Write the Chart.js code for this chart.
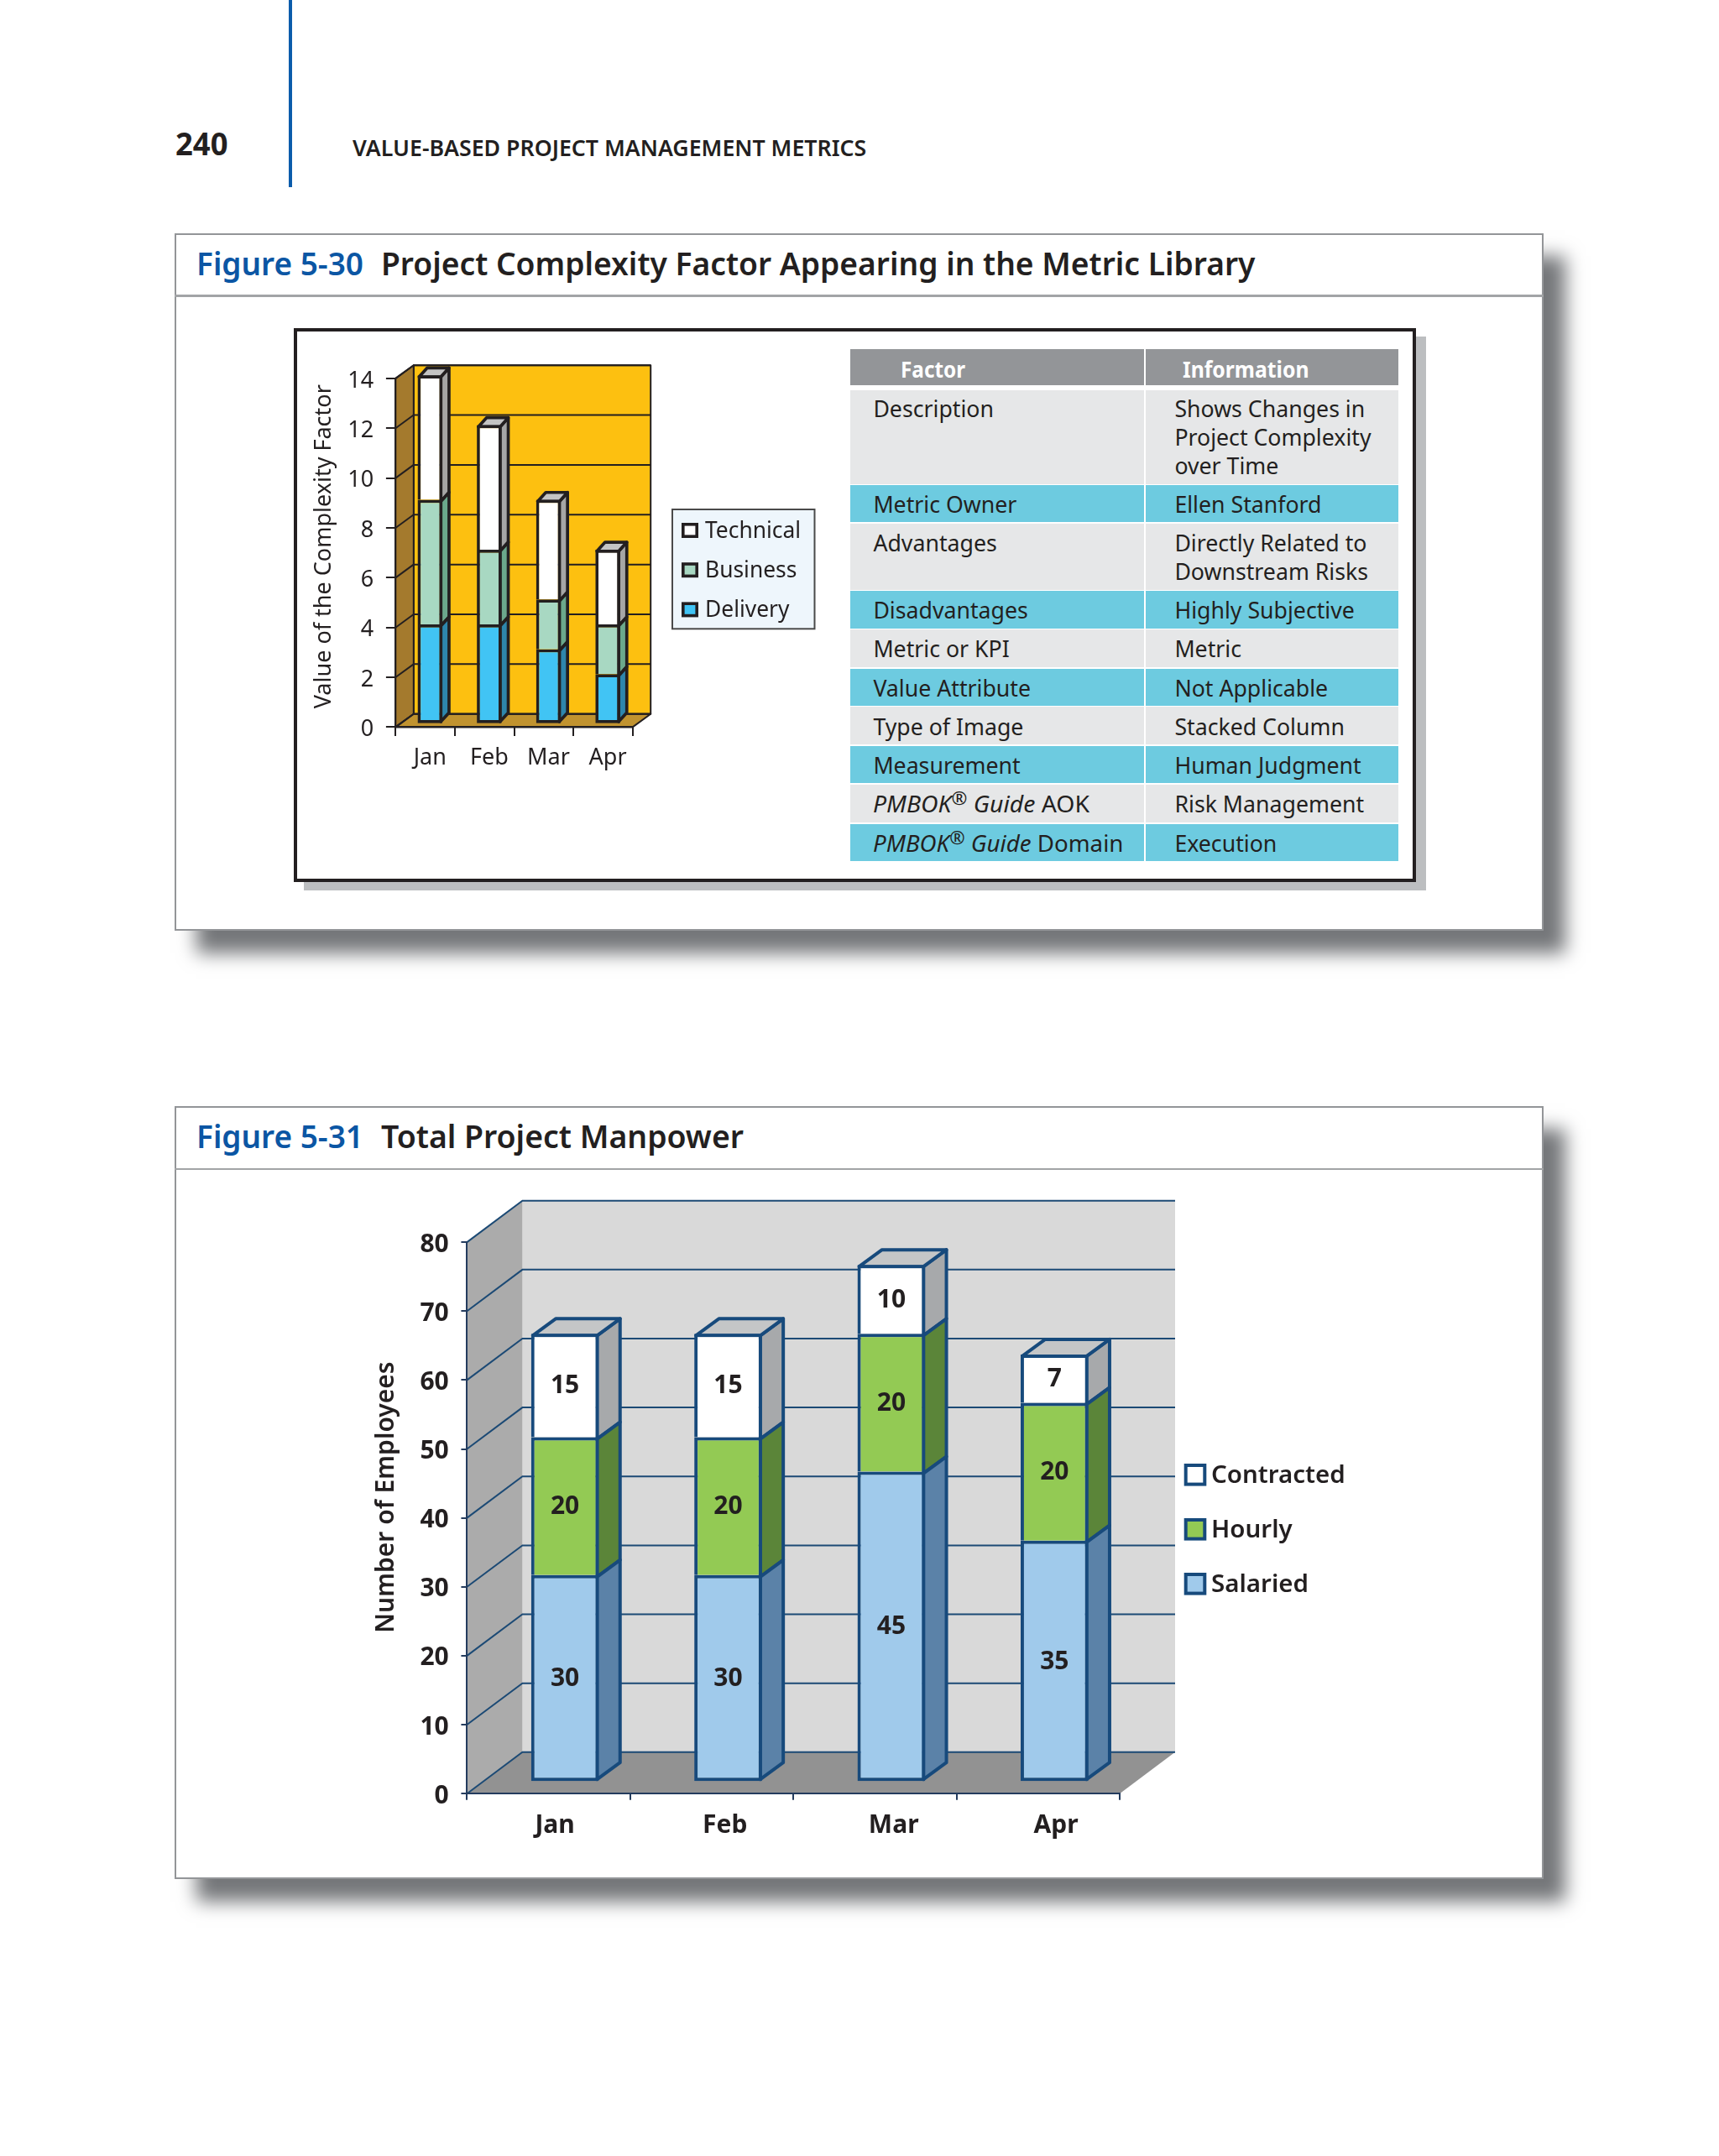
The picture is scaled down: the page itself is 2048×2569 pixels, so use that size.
<!DOCTYPE html>
<html><head><meta charset="utf-8">
<style>
html,body{margin:0;padding:0;background:#fff;width:2048px;height:2569px;overflow:hidden}
body{position:relative;font-family:'Noto Sans',sans-serif;color:#231F20}
.a{position:absolute}
.t{position:absolute;white-space:nowrap;line-height:normal;transform-origin:0 0}
canvas{position:absolute;display:block}
sup{font-size:.8em;line-height:0;vertical-align:.42em;font-style:normal}
</style></head><body>
<script src="https://cdn.jsdelivr.net/npm/chart.js@4"></script>
<script>
// ---------- data ----------
const months = ['Jan','Feb','Mar','Apr'];
const complexityTicksMax = 14;
const technical = [5,5,4,3];
const business  = [5,3,2,2];
const delivery  = [4,4,3,2];
const contracted = [15,15,10,7];
const hourly     = [20,20,20,20];
const salaried   = [30,30,45,35];
const tableHead = ['Factor','Information'];
const factorCol = ['Description','Metric Owner','Advantages','Disadvantages','Metric or KPI','Value Attribute','Type of Image','Measurement','<i>PMBOK<sup>®</sup> Guide</i> AOK','<i>PMBOK<sup>®</sup> Guide</i> Domain'];
const infoCol = [['Shows Changes in','Project Complexity','over Time'],['Ellen Stanford'],['Directly Related to','Downstream Risks'],['Highly Subjective'],['Metric'],['Not Applicable'],['Stacked Column'],['Human Judgment'],['Risk Management'],['Execution']];
// ---------- page furniture ----------
function rect(x,y,w,h,css){const d=document.createElement('div');d.className='a';d.style.cssText+=`left:${x}px;top:${y}px;width:${w}px;height:${h}px;`+css;document.body.appendChild(d);return d;}
function text(html,x,base,size,weight,color,fit){const s=document.createElement('span');s.className='t';s.innerHTML=html;
 s.style.cssText+=`left:${x}px;top:${base-1.069*size}px;font-size:${size}px;font-weight:${weight};color:${color};`;document.body.appendChild(s);
 if(fit){const w=s.getBoundingClientRect().width;s.style.transform=`scaleX(${fit/w})`;}return s;}
rect(344,0,3.6,222.7,'background:#0B5CAB');
text('240',208.7,185,38,700,'#231F20',62.5);
text('VALUE-BASED PROJECT MANAGEMENT METRICS',420.4,186,27,600,'#231F20',612.3);
function figBox(top,h,sepY,baseY,num,title,titleW){
 rect(208.3,top,1631,h,'box-sizing:border-box;background:#fff;border:2.5px solid #939598;box-shadow:26px 27px 21px #75777a');
 rect(208.3,sepY,1631,2.4,'background:#a2a4a6');
 text(num,234.2,baseY,37,600,'#0B56A4',199);
 text(title,454.2,baseY,37,600,'#231F20',titleW);
}
figBox(278.3,831,351.3,327.3,'Figure 5-30','Project Complexity Factor Appearing in the Metric Library',1041.4);
figBox(1317.8,921,1391.6,1367.6,'Figure 5-31','Total Project Manpower',432);
rect(362,401,1337,660,'background:#BCBEC0');
rect(349.8,390.7,1337.6,660,'box-sizing:border-box;background:#fff;border:4.5px solid #231F20');
// table
const colA=[1012.9,349.8], colB=[1364.6,301.2];
rect(colA[0],416,colA[1],43,'background:#939598');rect(colB[0],416,colB[1],43,'background:#939598');
text(tableHead[0],1072.5,450,27,700,'#fff',77);text(tableHead[1],1408.6,450,27,700,'#fff',150.6);
const rowTop=[465,577.8,623.8,704.4,750,796.8,842,889,934.7,982], rowBot=[576.5,622.5,702.7,748.7,795,841,887.4,933.4,980,1025.8];
const rowBase=[496.3,610.8,656.7,737,783,829.3,875.7,922,968,1015];
const factorFit={8:258,9:298.4};
factorCol.forEach((f,i)=>{const c=(i%2===1)?'#6DCBE0':'#E6E7E8';
 rect(colA[0],rowTop[i],colA[1],rowBot[i]-rowTop[i],'background:'+c);rect(colB[0],rowTop[i],colB[1],rowBot[i]-rowTop[i],'background:'+c);
 text(f,1040.4,rowBase[i],26.7,400,'#231F20',factorFit[i]);
 infoCol[i].forEach((l,j)=>text(l,1399.4,rowBase[i]+j*34,26.7,400,'#231F20'));
});
// ---------- chart helper ----------
function addCanvas(x,y,w,h){const c=document.createElement('canvas');c.width=w;c.height=h;c.style.left=x+'px';c.style.top=y+'px';c.style.width=w+'px';c.style.height=h+'px';document.body.appendChild(c);return c.getContext('2d');}
function poly(ctx,pts,fill,stroke,lw){ctx.beginPath();pts.forEach((p,i)=>i?ctx.lineTo(p[0],p[1]):ctx.moveTo(p[0],p[1]));ctx.closePath();if(fill){ctx.fillStyle=fill;ctx.fill();}if(stroke){ctx.strokeStyle=stroke;ctx.lineWidth=lw;ctx.lineJoin='round';ctx.stroke();}}
function cube(o){return {id:'cube3d',
 beforeDraw(chart){const ctx=chart.ctx,x=chart.scales.x,y=chart.scales.y,[dx,dy]=o.wall,L=x.left,R=x.right;
  const T=y.getPixelForValue(y.max),B=y.getPixelForValue(0);
  ctx.save();
  poly(ctx,[[L+dx,T-dy],[R+dx,T-dy],[R+dx,B-dy],[L+dx,B-dy]],o.back,o.backStroke,o.gridW);
  poly(ctx,[[L,B],[L+dx,B-dy],[L+dx,T-dy],[L,T]],o.left,o.leftStroke,o.gridW);
  poly(ctx,[[L,B],[R,B],[R+dx,B-dy],[L+dx,B-dy]],o.floor,o.floorStroke,o.gridW);
  ctx.strokeStyle=o.grid;ctx.lineWidth=o.gridW;
  y.ticks.forEach(t=>{const p=y.getPixelForValue(t.value);ctx.beginPath();ctx.moveTo(L,p);ctx.lineTo(L+dx,p-dy);ctx.lineTo(R+dx,p-dy);ctx.stroke();});
  ctx.restore();
  x.getLabelItems().forEach((it,i)=>{if(!it.shifted){it.options.translation[0]+=o.labelShift[i];it.shifted=true;}});
  if(!y.titlePatched){const orig=y.drawTitle;y.drawTitle=function(){ctx.save();ctx.translate(0,o.titleShift);orig.call(this);ctx.restore();};y.titlePatched=true;}
 },
 beforeDatasetDraw(chart,args){const ctx=chart.ctx;ctx.save();ctx.translate(o.bar[0],-o.bar[1]);
  const i=args.index,last=chart.data.datasets.length-1,[dx,dy]=o.depth,bw=o.bw,faces=o.side[i];
  args.meta.data.forEach(el=>{const xr=el.x+el.width/2-bw/2,xl=el.x-el.width/2+bw/2,yt=el.y+bw/2,yb=i?el.base+bw/2:el.base-bw/2;
   poly(ctx,[[xr,yt],[xr+dx,yt-dy],[xr+dx,yb-dy],[xr,yb]],faces,o.stroke,bw);
   if(i===last)poly(ctx,[[xl,yt],[xl+dx,yt-dy],[xr+dx,yt-dy],[xr,yt]],o.top,o.stroke,bw);
  });
 },
 afterDatasetDraw(chart){chart.ctx.restore();},
 afterDatasetsDraw(chart){const ctx=chart.ctx;
  if(o.valueFont){ctx.save();ctx.translate(o.bar[0],-o.bar[1]);ctx.font=o.valueFont;ctx.fillStyle='#231F20';ctx.textAlign='center';ctx.textBaseline='middle';
   chart.data.datasets.forEach((d,i)=>chart.getDatasetMeta(i).data.forEach((el,j)=>ctx.fillText(d.data[j],el.x,(el.y+el.base)/2+1)));ctx.restore();}
  const lg=o.legend;ctx.save();
  if(lg.box){ctx.fillStyle='#EEF6FC';ctx.strokeStyle='#4a4a4a';ctx.lineWidth=2;ctx.fillRect(...lg.box);ctx.strokeRect(...lg.box);}
  ctx.font=lg.font;ctx.textBaseline='middle';ctx.textAlign='left';
  const ds=chart.data.datasets;
  ds.slice().reverse().forEach((d,k)=>{const cy=lg.y+k*lg.step,b=lg.bw;
   ctx.fillStyle=d.backgroundColor;ctx.strokeStyle=d.borderColor;ctx.lineWidth=b;ctx.lineJoin='miter';
   ctx.fillRect(lg.x+b/2,cy-lg.h/2+b/2,lg.w-b,lg.h-b);ctx.strokeRect(lg.x+b/2,cy-lg.h/2+b/2,lg.w-b,lg.h-b);
   ctx.fillStyle='#231F20';ctx.fillText(d.label,lg.tx,cy+1);});
  ctx.restore();
 }};}
function series(label,data,bg,border,bw,thick,first){return {label,data,backgroundColor:bg,borderColor:border,borderWidth:bw,barThickness:thick,borderSkipped:first?false:'bottom',inflateAmount:0,clip:false};}
function makeChart(ctx,cfg){return new Chart(ctx,{type:'bar',plugins:[cube(cfg.cube)],
 data:{labels:months,datasets:cfg.datasets},
 options:{responsive:false,animation:false,devicePixelRatio:1,
  layout:{autoPadding:false,padding:cfg.pad},
  plugins:{legend:{display:false},tooltip:{enabled:false},title:{display:false}},
  scales:{
   x:{stacked:true,afterFit:s=>{s.height=cfg.xH;},
    grid:{drawOnChartArea:false,drawTicks:true,tickLength:cfg.xTick,color:cfg.axis,lineWidth:cfg.axisW,offset:true},
    border:{color:cfg.axis,width:cfg.axisW},
    ticks:{color:'#231F20',font:cfg.tickFont,padding:cfg.xPad,maxRotation:0,autoSkip:false}},
   y:{stacked:true,min:0,max:cfg.max,afterFit:s=>{s.width=cfg.yW;},
    title:{display:true,text:cfg.yTitle,color:'#231F20',font:cfg.titleFont,padding:0},
    grid:{drawOnChartArea:false,drawTicks:true,tickLength:cfg.yTick,color:cfg.axis,lineWidth:cfg.axisW},
    border:{color:cfg.axis,width:cfg.axisW},
    ticks:{stepSize:cfg.step,color:'#231F20',font:cfg.tickFont,padding:cfg.yPad,labelOffset:3}}
  }}});}
Chart.defaults.font.family="'Noto Sans',sans-serif";
const K='#231F20',B3=3.7;
makeChart(addCanvas(370,420,615,500),{
 pad:{left:0,top:29.6,right:615-383.7,bottom:0},xH:53.6,yW:101.3,max:complexityTicksMax,step:2,
 xTick:10.7,yTick:11.4,xPad:10,yPad:14.7,axis:K,axisW:2,
 tickFont:{size:27,weight:400},titleFont:{size:27,weight:400},yTitle:'Value of the Complexity Factor',
 datasets:[series('Delivery',delivery,'#41C4F4',K,B3,29.6,true),series('Business',business,'#A8D8C2',K,B3,29.6),series('Technical',technical,'#FFFFFF',K,B3,29.6)],
 cube:{wall:[21.5,15.7],bar:[5.7,3.7],depth:[9.7,10.7],bw:B3,stroke:K,side:['#2E86AC','#6BA88C','#A6A6A6'],top:'#C4C4C4',
  back:'#FDC010',backStroke:K,left:'#A47A2D',leftStroke:K,floor:'#C1932F',floorStroke:K,grid:K,gridW:2,labelShift:[5.7,5.7,5.7,5.7],titleShift:-7.4,
  legend:{box:[431,187,169.5,142.3],font:"400 26.4px 'Noto Sans'",x:442,y:212,step:47.2,w:20,h:18,bw:3.6,tx:470}}
});
const N='#174A7C',A='#243C5E',B4=4;
makeChart(addCanvas(442,1410,1208,790),{
 pad:{left:0,top:70.1,right:1650-1334,bottom:0},xH:62.8,yW:114.4,max:80,step:10,
 xTick:7.6,yTick:7,xPad:13,yPad:14.7,axis:A,axisW:2,
 tickFont:{size:30,weight:700},titleFont:{size:30,weight:600},yTitle:'Number of Employees',
 datasets:[series('Salaried',salaried,'#A0CAEB',N,B4,80.7,true),series('Hourly',hourly,'#93CA54',N,B4,80.7),series('Contracted',contracted,'#FFFFFF',N,B4,80.7)],
 cube:{wall:[66,49.4],bar:[19.5,14],depth:[27.3,20],bw:B4,stroke:N,side:['#5B82A8','#5B8539','#A7A9AB'],top:'#C4C6C7',
  back:'#D9D9D9',backStroke:null,left:'#ABABAB',leftStroke:null,floor:'#929292',floorStroke:null,grid:'#1C4A75',gridW:2,labelShift:[7.5,15.7,22.3,21.2],titleShift:-24.6,
  valueFont:"700 30px 'Noto Sans'",
  legend:{font:"600 29.5px 'Noto Sans'",x:968.7,y:347.3,step:65,w:26.6,h:26.6,bw:4,tx:1001}}
});
</script>
</body></html>
